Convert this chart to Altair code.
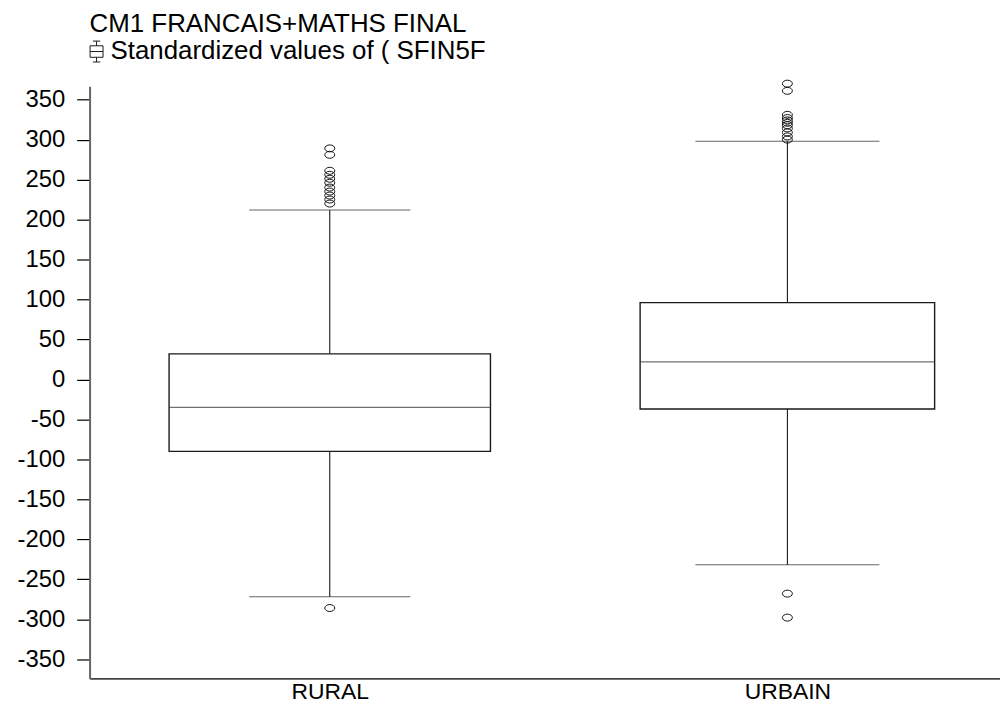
import json
import altair as alt
import pandas as pd

# ---- data ----
categories = ["RURAL", "URBAIN"]
q1 = [-90, -37]
median = [-35, 22]
q3 = [32, 96]
whisker_low = [-272, -232]
whisker_high = [212, 298]
outliers_rural = [289, 281, 261, 256, 251, 246, 240, 235, 230, 225, 220, -286]
outliers_urbain = [370, 361, 331, 327, 324, 321, 318, 314, 309, 304, 300, -268, -298]
y_ticks = [-350, -300, -250, -200, -150, -100, -50, 0, 50, 100, 150, 200, 250, 300, 350]
series_label = "Standardized values of ( SFIN5F"
title_text = "CM1 FRANCAIS+MATHS FINAL"

summary = pd.DataFrame({
    "cat": categories, "q1": q1, "med": median, "q3": q3,
    "lo": whisker_low, "hi": whisker_high,
    "series": [series_label] * len(categories),
})
out_df = pd.DataFrame({
    "cat": ["RURAL"] * len(outliers_rural) + ["URBAIN"] * len(outliers_urbain),
    "value": outliers_rural + outliers_urbain,
})

# ---- styling ----
FONT = "Liberation Sans"
PLOT_W, PLOT_H = 915, 595
box_width = {"RURAL": 323, "URBAIN": 296}
cap_width = {"RURAL": 162, "URBAIN": 185}
ellipse = ("M1,0 C1,0.3866 0.5523,0.7 0,0.7 C-0.5523,0.7 -1,0.3866 -1,0 "
           "C-1,-0.3866 -0.5523,-0.7 0,-0.7 C0.5523,-0.7 1,-0.3866 1,0 Z")
icon = ("M-0.35,-1 L0.35,-1 M0,-1 L0,-0.55 M-0.62,-0.55 L0.62,-0.55 L0.62,0.55 "
        "L-0.62,0.55 Z M-0.62,0 L0.62,0 M0,0.55 L0,1 M-0.35,1 L0.35,1")

cat_js = json.dumps(categories).replace('"', "'")
idx_expr = f"indexof({cat_js}, datum.cat)"
# category slots: first at 239px, second at 704px from the plot's left edge
step_px, first_px = 465.0, 239.0
xscale = alt.Scale(domain=[-first_px / step_px, (PLOT_W - first_px) / step_px], nice=False, zero=False)
yscale = alt.Scale(domain=[-374, 366.6], nice=False, zero=False)
xaxis = alt.Axis(title=None, values=list(range(len(categories))), labelExpr=f"{cat_js}[datum.value]",
                 ticks=False, grid=False, domainColor="#444", domainWidth=2, labelFlush=False,
                 labelFontSize=23, labelColor="black", labelAngle=0, labelPadding=2,
                 labelFont=FONT, labelFontWeight="normal")
yaxis = alt.Axis(title=None, values=y_ticks, labelExpr="toString(datum.value)", tickSize=13,
                 tickColor="black", tickWidth=1.2, domainColor="#666", domainWidth=2,
                 labelFontSize=24, labelColor="black", labelPadding=12, grid=False, labelFont=FONT)


def X():
    return alt.X("idx:Q", scale=xscale, axis=xaxis)


def Y(field):
    return alt.Y(f"{field}:Q", scale=yscale, axis=yaxis)


base = alt.Chart(summary).transform_calculate(idx=idx_expr)
legend = alt.Legend(
    title=title_text, orient="none", legendX=0, legendY=-76,
    symbolType=icon, symbolSize=441, symbolStrokeWidth=1, symbolFillColor="white",
    symbolOffset=-6,
    titleFontSize=26, titleFontWeight="normal", titleColor="black", titleFont=FONT,
    labelFontSize=26, labelColor="black", labelFont=FONT, titleLimit=900, labelLimit=900,
    titlePadding=2, labelOffset=1, padding=0,
)

layers = []
for c in categories:
    b = base.transform_filter(alt.datum.cat == c)
    layers.append(b.mark_rule(color="black", strokeWidth=1).encode(x=X(), y=Y("hi"), y2="q3"))
    layers.append(b.mark_rule(color="black", strokeWidth=1).encode(x=X(), y=Y("q1"), y2="lo"))
    layers.append(
        b.mark_bar(size=box_width[c], fill="white", strokeWidth=1.4, orient="vertical").encode(
            x=X(), y=Y("q1"), y2="q3",
            stroke=alt.Stroke("series:N", scale=alt.Scale(range=["#1a1a1a"]), legend=legend),
        )
    )
    layers.append(b.mark_tick(size=box_width[c], thickness=1.3, color="#333", orient="horizontal")
                  .encode(x=X(), y=Y("med")))
    layers.append(b.mark_tick(size=cap_width[c], thickness=1, color="#222", orient="horizontal")
                  .encode(x=X(), y=Y("hi")))
    layers.append(b.mark_tick(size=cap_width[c], thickness=1, color="#222", orient="horizontal")
                  .encode(x=X(), y=Y("lo")))

points = alt.Chart(out_df).transform_calculate(idx=idx_expr).mark_point(
    shape=ellipse, size=100, filled=False, stroke="#111", strokeWidth=1, opacity=1
).encode(x=X(), y=Y("value"))
layers.append(points)

chart = alt.layer(*layers).properties(
    width=PLOT_W, height=PLOT_H,
    autosize=alt.AutoSizeParams(type="none"),
    padding={"left": 82, "top": 77, "right": 0, "bottom": 25},
    background="white",
).configure_view(stroke=None)

chart.save("out.html", embed_options={"renderer": "svg", "actions": False})
